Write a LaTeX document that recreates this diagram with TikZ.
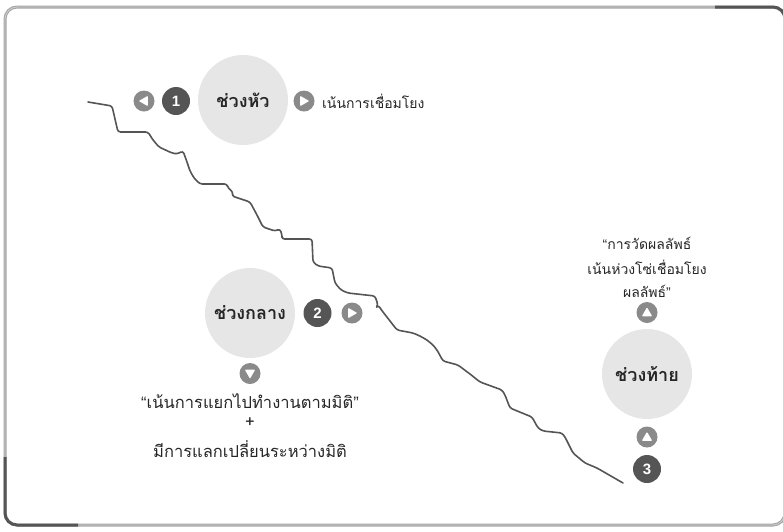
\documentclass[tikz,border=0pt]{standalone}
\usepackage{fontspec}
\setmainfont[Script=Thai]{Loma}
\newfontfamily\latinf{Liberation Sans}
\definecolor{cfill}{HTML}{E6E6E7}
\definecolor{cdark}{HTML}{555555}
\definecolor{carr}{HTML}{8A8A8A}
\definecolor{cframe}{HTML}{A4A4A4}
\definecolor{cframein}{HTML}{D0D0D0}
\definecolor{cline}{HTML}{555555}
\tikzset{
  bigc/.style={circle, fill=cfill, minimum size=90pt, inner sep=0pt, font=\bfseries\fontsize{18}{20}\selectfont, text=black!85},
  badge/.style={circle, fill=cdark, minimum size=28pt, inner sep=0pt, text=white, font=\latinf\bfseries\fontsize{15}{17}\selectfont},
  arrc/.style={circle, fill=carr, minimum size=21pt, inner sep=0pt},
  txt/.style={font=\fontsize{14}{16}\selectfont, text=black!85, align=center, inner sep=0pt},
  txtb/.style={txt, font=\fontsize{16.5}{18}\selectfont},
  tri/.pic={\fill[white, rounded corners=0.8pt] (-3.8,-5.2) -- (5.2,0) -- (-3.8,5.2) -- cycle;},
  framedark/.style={draw=cdark, line width=3pt},
}
\begin{document}
\begin{tikzpicture}[x=1pt,y=-1pt]
\useasboundingbox (0,0) rectangle (783,531);
\begin{scope}
\clip (0,0) rectangle (783,531);
% frame
\draw[cframe, line width=3pt, rounded corners=12pt] (5,7) rectangle (785,525);
\draw[cframein, line width=0.8pt, rounded corners=12pt] (5,7) rectangle (785,525);
\draw[framedark, rounded corners=12pt] (715,7) -- (785,7) -- (785,40);
\draw[framedark, rounded corners=12pt] (5,457) -- (5,525) -- (78,525);
\end{scope}

% jagged line
\draw[cline, line width=1.6pt, line join=round, line cap=round, rounded corners=2.5pt]
 (88,102) -- (112,106) -- (118,132) -- (148,132) -- (153,140) -- (159,147) -- (172,153) -- (177,154) -- (183,151)
 -- (187,162) -- (190,171) -- (194,178) -- (200,184) -- (227,184) -- (228,188) -- (233,192) -- (232,196)
 -- (238,198) -- (250,202) -- (257,215) -- (263,227) -- (275,231) -- (280,229) -- (282,235) -- (282,239)
 -- (312,239) -- (313,262) -- (318,266) -- (332,268) -- (335,283) -- (341,290) -- (348,293) -- (375,296)
 -- (378,305) -- (376,308) -- (378,305) -- (383,312) -- (397,330) -- (413,333) -- (420,336) -- (427,340)
 -- (433,345) -- (437,350) -- (443,361) -- (458,365) -- (462,368) -- (470,374) -- (480,382) -- (502,390)
 -- (505,395) -- (510,408) -- (527,415) -- (532,417) -- (538,428) -- (543,431) -- (562,433) -- (565,437)
 -- (573,453) -- (585,463) -- (597,468) -- (623,483);

% head
\node[bigc] (head) at (243,100) {ช่วงหัว};
\node[badge] (b1) at (176,101) {1};
\node[arrc] (al) at (144,101) {};
\pic[rotate=180] at (al) {tri};
\node[arrc] (ar1) at (304,101) {};
\pic at (ar1) {tri};
\node[txt, anchor=west] (t1) at (322,101) {เน้นการเชื่อมโยง};

% middle
\node[bigc] (mid) at (250,313) {ช่วงกลาง};
\node[badge] (b2) at (317.5,313) {2};
\node[arrc] (ar2) at (352,313) {};
\pic at (ar2) {tri};
\node[arrc] (ad) at (250,373.5) {};
\pic[rotate=270] at (ad) {tri};
\node[txtb] (t2a) at (250,401) {{\latinf “}เน้นการแยกไปทำงานตามมิติ{\latinf ”}};
\node[txtb] (t2b) at (250,423) {+};
\node[txtb] (t2c) at (250,449) {มีการแลกเปลี่ยนระหว่างมิติ};

% tail
\node[bigc] (tail) at (647,374) {ช่วงท้าย};
\node[arrc] (au1) at (647,312.5) {};
\pic[rotate=90] at (au1) {tri};
\node[arrc] (au2) at (647,437) {};
\pic[rotate=90] at (au2) {tri};
\node[badge] (b3) at (647,469) {3};
\node[txt] (t3a) at (647,243) {{\latinf “}การวัดผลลัพธ์};
\node[txt] (t3b) at (647,267) {เน้นห่วงโซ่เชื่อมโยง};
\node[txt] (t3c) at (647,291) {ผลลัพธ์{\latinf ”}};
\end{tikzpicture}
\end{document}
